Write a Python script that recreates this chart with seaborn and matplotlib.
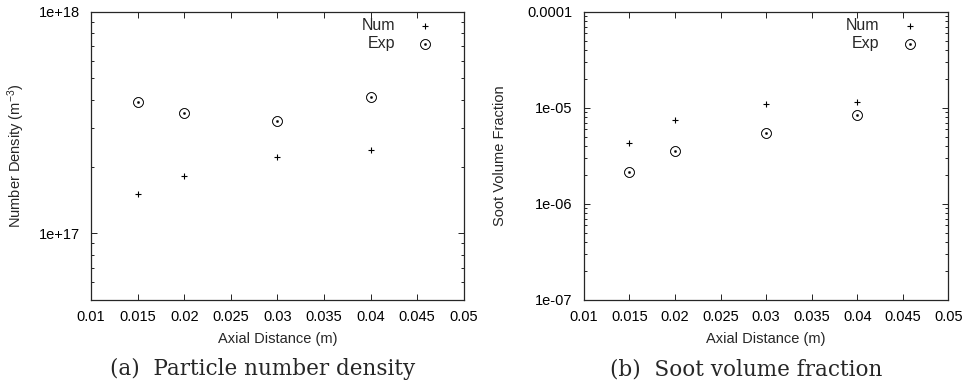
import numpy as np
import pandas as pd
import matplotlib
matplotlib.use('Agg')
import matplotlib.pyplot as plt
import seaborn as sns
from matplotlib.ticker import LogLocator, FixedLocator, NullFormatter

# %% data
axial = [0.015, 0.02, 0.03, 0.04]
nd_num = [1.5e17, 1.81e17, 2.22e17, 2.37e17]
nd_exp = [3.9e17, 3.5e17, 3.2e17, 4.1e17]
fv_num = [4.3e-6, 7.4e-6, 1.1e-5, 1.15e-5]
fv_exp = [2.17e-6, 3.56e-6, 5.5e-6, 8.4e-6]
xticks = [0.01, 0.015, 0.02, 0.025, 0.03, 0.035, 0.04, 0.045, 0.05]
xtick_labels = ['0.01', '0.015', '0.02', '0.025', '0.03', '0.035', '0.04', '0.045', '0.05']

# %%
sns.set_style('ticks')
plt.rcParams['font.family'] = ['Liberation Sans', 'DejaVu Sans']
plt.rcParams['mathtext.fontset'] = 'custom'
plt.rcParams['mathtext.rm'] = 'Liberation Sans'
plt.rcParams['mathtext.it'] = 'Liberation Sans'

fig = plt.figure(figsize=(9.71, 3.86), dpi=100)
ax1 = fig.add_axes([0.0937, 0.2228, 0.384, 0.747])
ax2 = fig.add_axes([0.6014, 0.2228, 0.3752, 0.747])


def draw(ax, num, exp, ylim, ylabel, yticks, ylabels, label_x):
    df = pd.DataFrame({'x': axial, 'num': num, 'exp': exp})
    sns.scatterplot(data=df, x='x', y='num', ax=ax, marker='+', color='black',
                    s=24, linewidth=0.8, label='Num')
    sns.scatterplot(data=df, x='x', y='exp', ax=ax, marker=r'$\odot$', color='black',
                    edgecolor='black', s=55, linewidth=0.3, label='Exp')
    ax.set_yscale('log')
    ax.set_xlim(0.01, 0.05)
    ax.set_ylim(*ylim)
    ax.set_xticks(xticks)
    ax.set_xticklabels(xtick_labels)
    ax.yaxis.set_major_locator(FixedLocator(yticks))
    ax.set_yticklabels(ylabels)
    ax.yaxis.set_minor_locator(LogLocator(base=10, subs=np.arange(2, 10)))
    ax.yaxis.set_minor_formatter(NullFormatter())
    ax.tick_params(which='both', direction='in', top=True, right=True,
                   labelsize=10.5, width=0.6, colors='black')
    ax.tick_params(which='major', length=4)
    ax.tick_params(which='minor', length=2)
    ax.tick_params(axis='x', pad=7)
    ax.tick_params(axis='y', pad=8)
    for sp in ax.spines.values():
        sp.set_linewidth(0.9)
    ax.set_xlabel('Axial Distance (m)', fontsize=10.5, labelpad=6)
    ax.set_ylabel(ylabel, fontsize=10.5)
    ax.yaxis.set_label_coords(label_x, 0.5)
    ax.legend(loc='upper right', frameon=False, markerfirst=False, fontsize=11.5,
              handletextpad=0.9, borderaxespad=0.2, labelspacing=0.15,
              bbox_to_anchor=(0.965, 1.01))


draw(ax1, nd_num, nd_exp, (5e16, 1e18), r'Number Density (m$^{-3}$)',
     [1e17, 1e18], ['1e+17', '1e+18'], -0.172)
draw(ax2, fv_num, fv_exp, (1e-7, 1e-4), 'Soot Volume Fraction',
     [1e-7, 1e-6, 1e-5, 1e-4], ['1e-07', '1e-06', '1e-05', '0.0001'], -0.21)

fig.text(0.27, 0.044, '(a)  Particle number density', ha='center', va='center',
         fontsize=15.5, family=['DejaVu Serif'])
fig.text(0.768, 0.044, '(b)  Soot volume fraction', ha='center', va='center',
         fontsize=15.5, family=['DejaVu Serif'])

fig.savefig('out.png', dpi=100)
